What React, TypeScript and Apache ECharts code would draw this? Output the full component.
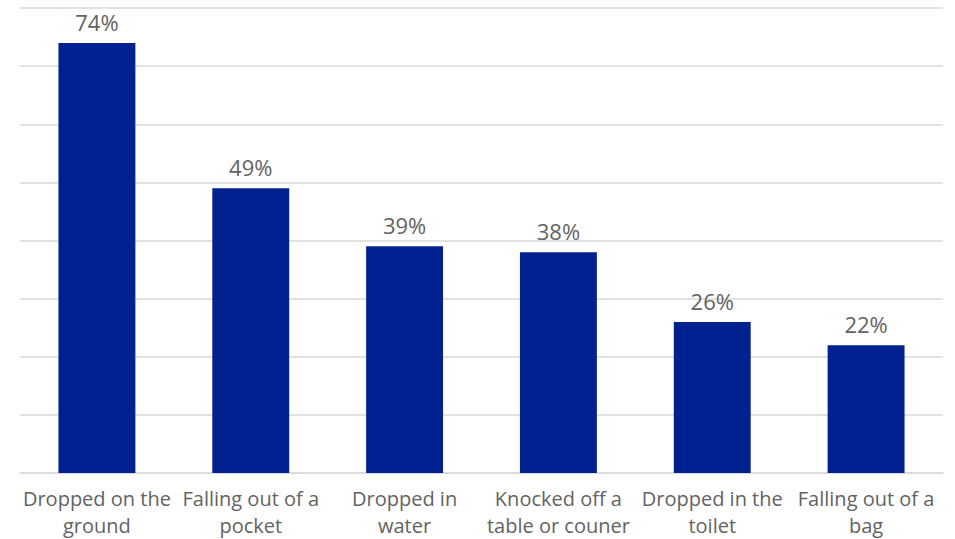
import React, { useEffect, useRef } from "react";
import * as echarts from "echarts";

const categories = [
  "Dropped on the\nground",
  "Falling out of a\npocket",
  "Dropped in\nwater",
  "Knocked off a\ntable or couner",
  "Dropped in the\ntoilet",
  "Falling out of a\nbag",
];
const values = [74, 49, 39, 38, 26, 22];

const BAR_COLOR = "#022191";
const TEXT_COLOR = "#636363";
const GRID_COLOR = "#d9d9d9";
const FONT = "'Open Sans', 'Noto Sans', sans-serif";

export default function App() {
  const ref = useRef<HTMLDivElement>(null);

  useEffect(() => {
    if (!ref.current) return;
    const chart = echarts.init(ref.current, undefined, { renderer: "svg" });
    chart.setOption({
      animation: false,
      backgroundColor: "#ffffff",
      grid: { left: 20, right: 12, top: 8, bottom: 64, containLabel: false },
      xAxis: {
        type: "category",
        data: categories,
        axisLine: { show: true, lineStyle: { color: GRID_COLOR, width: 1.5 } },
        axisTick: { show: false },
        axisLabel: {
          interval: 0,
          color: TEXT_COLOR,
          fontFamily: FONT,
          fontSize: 20,
          lineHeight: 27,
          margin: 12,
        },
      },
      yAxis: {
        type: "value",
        min: 0,
        max: 80,
        interval: 10,
        axisLabel: { show: false },
        axisLine: { show: false },
        axisTick: { show: false },
        splitLine: { lineStyle: { color: GRID_COLOR, width: 1.5 } },
      },
      series: [
        {
          type: "bar",
          data: values,
          barWidth: "50%",
          itemStyle: { color: BAR_COLOR },
          label: {
            show: true,
            position: "top",
            distance: 10,
            formatter: "{c}%",
            color: TEXT_COLOR,
            fontFamily: FONT,
            fontSize: 22,
          },
        },
      ],
    });
    return () => chart.dispose();
  }, []);

  return (
    <div
      ref={ref}
      style={{ position: "fixed", left: 0, top: 0, width: 955, height: 539 }}
    />
  );
}
